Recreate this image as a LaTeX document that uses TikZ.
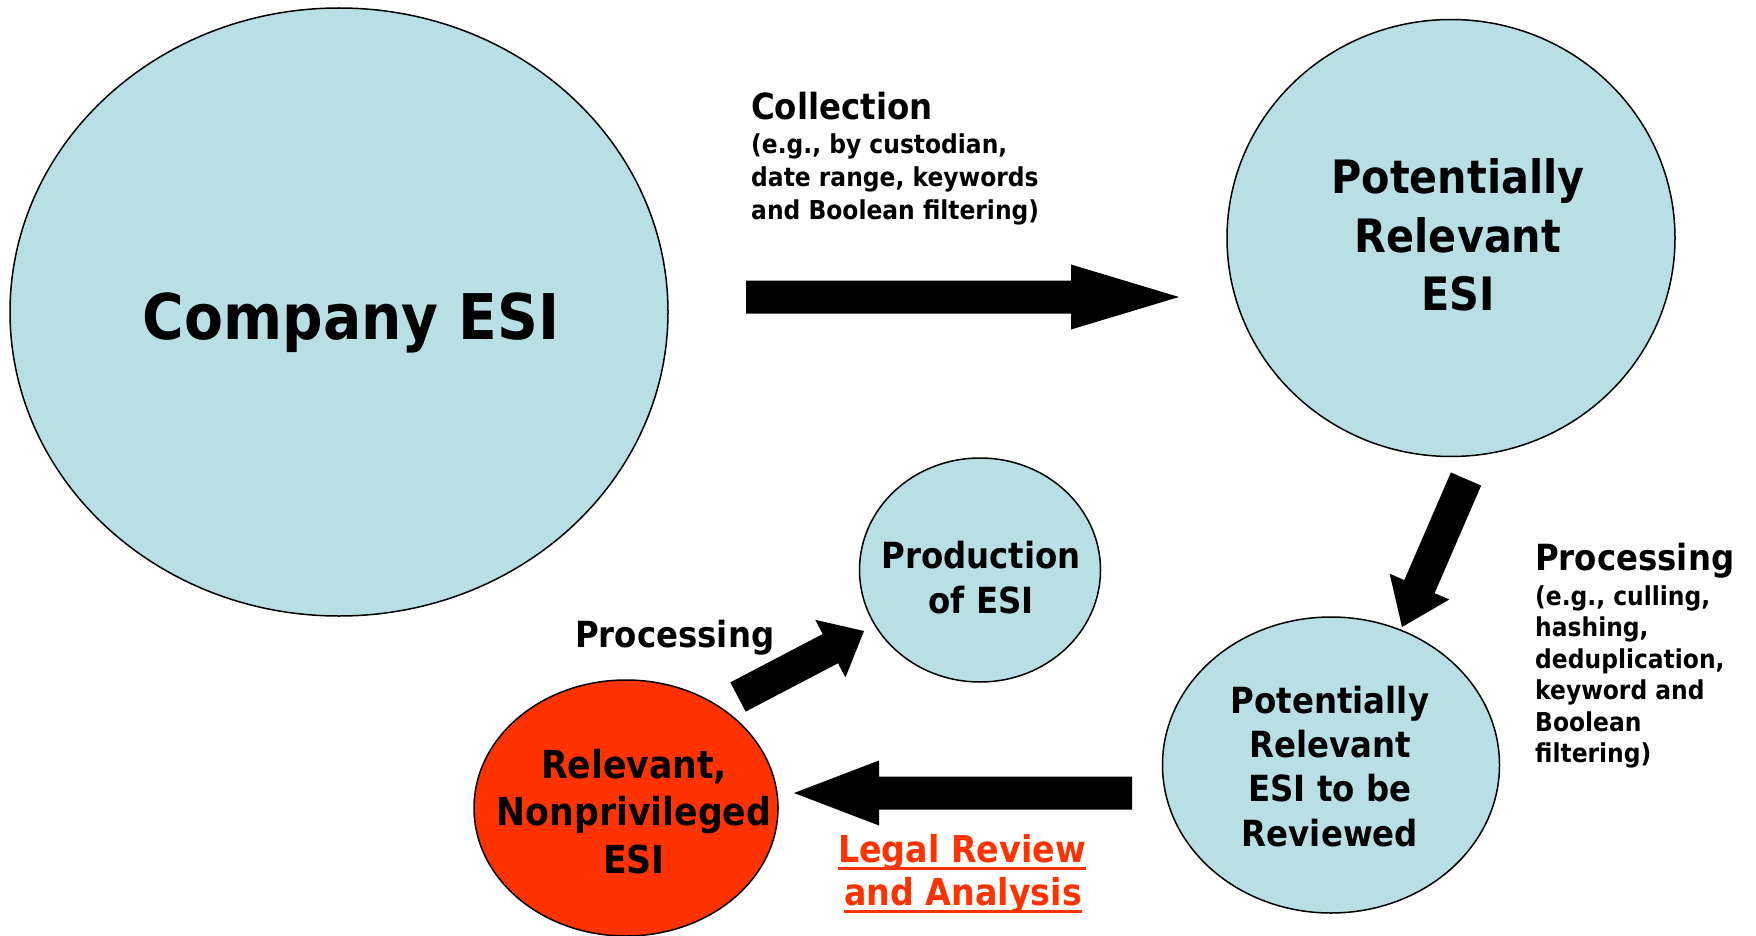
\documentclass[tikz,border=0pt]{standalone}
\usepackage{fontspec}
\setmainfont{DejaVu Sans}[FakeStretch=0.9]
\usetikzlibrary{shapes.geometric,calc}
\definecolor{esiblue}{RGB}{184,223,227}
\definecolor{esired}{RGB}{255,51,0}
\tikzset{
  bubble/.style={ellipse, draw=black, line width=1.5pt, fill=esiblue, inner sep=0pt},
  fs/.style={font=\fontsize{#1}{#1}\selectfont\bfseries},
  lbl/.style={inner sep=0pt, anchor=base},
  lblw/.style={inner sep=0pt, anchor=base west},
  blockarrow/.style={fill=black},
  uline/.style={draw=esired, line width=3pt},
}
% block arrow: tail, tip, head length
\newcommand\bigarrow[3]{%
  \coordinate (#1-hb) at ($(#2)!#3!(#1)$);
  \fill[blockarrow] ($(#1)!16.5pt!90:(#2)$) -- ($(#1-hb)!16.5pt!90:(#2)$)
    -- ($(#1-hb)!32.5pt!90:(#2)$) -- (#2) -- ($(#1-hb)!32.5pt!-90:(#2)$)
    -- ($(#1-hb)!16.5pt!-90:(#2)$) -- ($(#1)!16.5pt!-90:(#2)$) -- cycle;
}
\begin{document}
\begin{tikzpicture}[x=1pt,y=-1pt]
\path[use as bounding box, fill=white] (0,0) rectangle (1756,936);

% ellipses
\node[bubble, minimum width=658pt, minimum height=608pt] (company) at (339,312) {};
\node[bubble, minimum width=448pt, minimum height=437pt] (potential) at (1451,238) {};
\node[bubble, minimum width=337pt, minimum height=296pt] (review) at (1331,765) {};
\node[bubble, minimum width=241pt, minimum height=224pt] (production) at (980,570) {};
\node[bubble, fill=esired, minimum width=304pt, minimum height=256pt] (relevant) at (626,808) {};

% texts in ellipses
\node[lbl, fs=63] (companyT) at (351,339) {Company ESI};

\node[lbl, fs=46] (potT1) at (1458,194) {Potentially};
\node[lbl, fs=46] (potT2) at (1458,252) {Relevant};
\node[lbl, fs=46] (potT3) at (1458,310) {ESI};

\node[lbl, fs=36] (revT1) at (1330,713) {Potentially};
\node[lbl, fs=36] (revT2) at (1330,757) {Relevant};
\node[lbl, fs=36] (revT3) at (1330,801) {ESI to be};
\node[lbl, fs=36] (revT4) at (1330,846) {Reviewed};

\node[lbl, fs=36] (prodT1) at (981,568) {Production};
\node[lbl, fs=36] (prodT2) at (981,613) {of ESI};

\node[lbl, fs=38.5] (relT1) at (634,778) {Relevant,};
\node[lbl, fs=38.5] (relT2) at (634,825) {Nonprivileged};
\node[lbl, fs=38.5] (relT3) at (634,873) {ESI};

% step labels
\node[lblw, fs=36] (colT) at (751,120) {Collection};
\node[lblw, fs=26] (colT1) at (751,154) {(e.g., by custodian,};
\node[lblw, fs=26] (colT2) at (751,186.5) {date range, keywords};
\node[lblw, fs=26] (colT3) at (751,219) {and Boolean filtering)};

\node[lblw, fs=36] (procT) at (1535,570) {Processing};
\node[lblw, fs=26] (procT1) at (1535,605) {(e.g., culling,};
\node[lblw, fs=26] (procT2) at (1535,636.5) {hashing,};
\node[lblw, fs=26] (procT3) at (1535,668) {deduplication,};
\node[lblw, fs=26] (procT4) at (1535,699.5) {keyword and};
\node[lblw, fs=26] (procT5) at (1535,731) {Boolean};
\node[lblw, fs=26] (procT6) at (1535,762.5) {filtering)};

\node[lblw, fs=36] (proc2T) at (575,647) {Processing};

\node[lbl, fs=37, text=esired] (legT1) at (962,862) {Legal Review};
\node[lbl, fs=37, text=esired] (legT2) at (963,905) {and Analysis};
\draw[uline] ([yshift=-6pt]legT1.base west) -- ([yshift=-6pt]legT1.base east);
\draw[uline] ([yshift=-6pt]legT2.base west) -- ([yshift=-6pt]legT2.base east);

% arrows
\coordinate (colA) at (746,297);
\coordinate (colB) at (1179,297);
\bigarrow{colA}{colB}{108pt}

\coordinate (procA) at (1466,479);
\coordinate (procB) at (1402,627);
\bigarrow{procA}{procB}{44pt}

\coordinate (prodA) at (738,697);
\coordinate (prodB) at (864,631);
\bigarrow{prodA}{prodB}{38pt}

\coordinate (revA) at (1132,793);
\coordinate (revB) at (794,793);
\bigarrow{revA}{revB}{85pt}
\end{tikzpicture}
\end{document}
